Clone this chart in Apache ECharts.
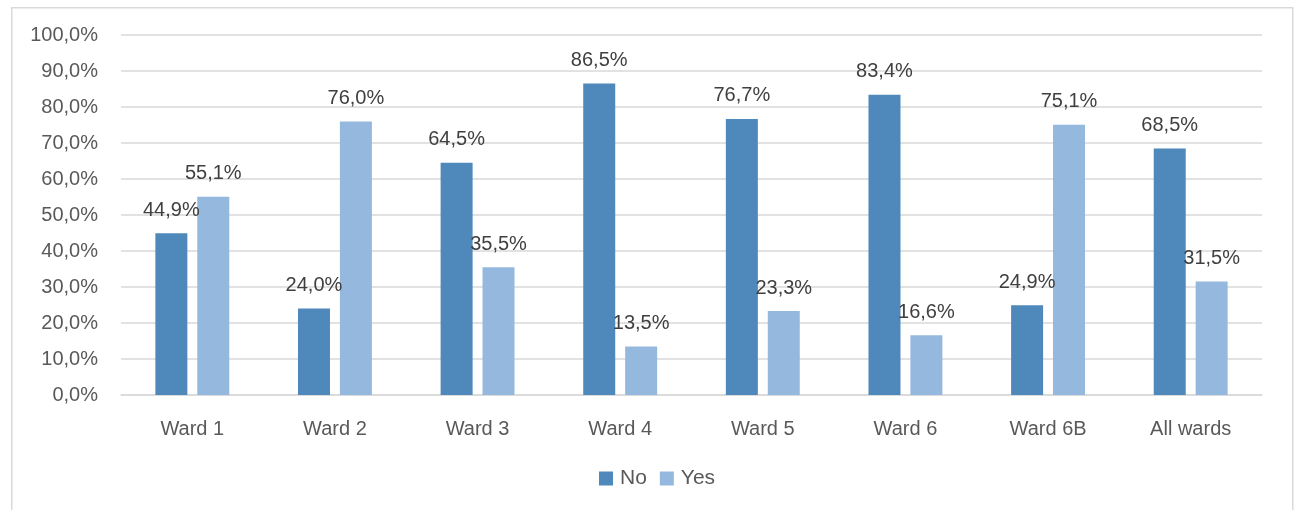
<!DOCTYPE html>
<html>
<head>
<meta charset="utf-8">
<script src="https://cdn.jsdelivr.net/npm/echarts@6/dist/echarts.min.js"></script>
<style>
html,body{margin:0;padding:0;background:#fff;}
#chart{width:1297px;height:510px;}
</style>
</head>
<body>
<div id="chart"></div>
<script>
const categories = ['Ward 1','Ward 2','Ward 3','Ward 4','Ward 5','Ward 6','Ward 6B','All wards'];
const noValues  = [44.9, 24.0, 64.5, 86.5, 76.7, 83.4, 24.9, 68.5];
const yesValues = [55.1, 76.0, 35.5, 13.5, 23.3, 16.6, 75.1, 31.5];
const seriesNames = ['No','Yes'];
const colors = ['#4F88BB','#95B8DF'];

const FONT = '"Liberation Sans", Arial, sans-serif';
const fmt = v => v.toFixed(1).replace('.', ',') + '%';

const chart = echarts.init(document.getElementById('chart'), null, {renderer:'canvas'});
const labelCfg = {
  show: true, position: 'top', distance: 13,
  color: '#404040', fontSize: 20, fontFamily: FONT,
  formatter: p => fmt(p.value)
};
chart.setOption({
  animation: false,
  backgroundColor: '#fff',
  graphic: [{
    type: 'rect', left: 11, top: 7, z: -1,
    shape: {width: 1281, height: 520},
    style: {fill: '#fff', stroke: '#d9d9d9', lineWidth: 1.5}
  }],
  grid: {left: 121, right: 35, top: 35, bottom: 115, containLabel: false},
  legend: {
    data: seriesNames, bottom: 16, left: 594,
    itemWidth: 14, itemHeight: 14, itemGap: 13,
    icon: 'rect',
    textStyle: {color: '#595959', fontSize: 21, fontFamily: FONT, padding: [0,0,0,2]}
  },
  xAxis: {
    type: 'category', data: categories,
    axisLine: {lineStyle: {color: '#d9d9d9', width: 1.5}},
    axisTick: {show: false},
    axisLabel: {color: '#595959', fontSize: 20, fontFamily: FONT, margin: 24}
  },
  yAxis: {
    type: 'value', min: 0, max: 100, interval: 10,
    axisLine: {show: false}, axisTick: {show: false},
    splitLine: {lineStyle: {color: '#d9d9d9', width: 1.5}},
    axisLabel: {color: '#595959', fontSize: 20, fontFamily: FONT, margin: 23, formatter: v => fmt(v)}
  },
  series: [
    {name: seriesNames[0], type: 'bar', data: noValues, barWidth: 32, barGap: '31%',
     itemStyle: {color: colors[0]}, label: labelCfg},
    {name: seriesNames[1], type: 'bar', data: yesValues, barWidth: 32, barGap: '31%',
     itemStyle: {color: colors[1]}, label: labelCfg}
  ]
});
</script>
</body>
</html>
